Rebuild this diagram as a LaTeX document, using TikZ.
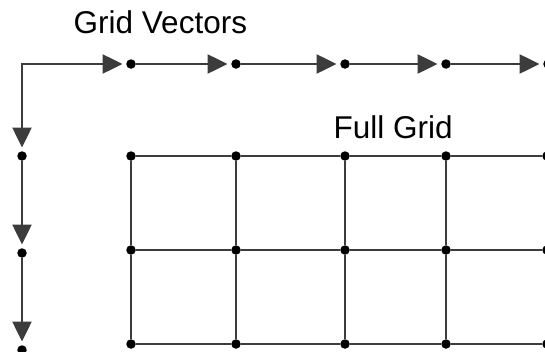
\documentclass[tikz,border=0pt]{standalone}
\usepackage{fontspec}
\setmainfont{Liberation Sans}
\usetikzlibrary{arrows.meta}
\definecolor{linegray}{HTML}{3C3C3C}
\begin{document}
\begin{tikzpicture}[x=1pt,y=-1pt,
  dot/.style={circle,fill=black,inner sep=0pt,minimum size=9.5pt},
  vec/.style={draw=linegray,line width=2.3pt,-{Triangle[length=20pt,width=19pt]},shorten >=3.5pt},
  corner/.style={draw=linegray,line width=2.3pt,{Triangle[length=20pt,width=19pt]}-{Triangle[length=20pt,width=19pt]},shorten >=3.5pt,shorten <=3.5pt},
  gridline/.style={draw=linegray,line width=2.3pt},
  lbl/.style={font=\fontsize{31.5}{36}\selectfont,anchor=base west,inner sep=0pt}]
\useasboundingbox (0,0) rectangle (545,351);
% labels
\node[lbl] (tv) at (73.5,33) {Grid Vectors};
\node[lbl] (tf) at (333.5,138) {Full Grid};
% grid vectors
\coordinate (c) at (22,64);
\node[dot] (h1) at (131,64) {};
\node[dot] (h2) at (236,64) {};
\node[dot] (h3) at (345,64) {};
\node[dot] (h4) at (446,64) {};
\node[dot] (h5) at (548,64) {};
\node[dot] (v1) at (22,156) {};
\node[dot] (v2) at (22,253) {};
\node[dot] (v3) at (22,350) {};
\draw[corner] (v1) -- (c) -- (h1);
\draw[vec] (h1) -- (h2);
\draw[vec] (h2) -- (h3);
\draw[vec] (h3) -- (h4);
\draw[vec] (h4) -- (h5);
\draw[vec] (v1) -- (v2);
\draw[vec] (v2) -- (v3);
% full grid
\foreach \i/\x in {1/131,2/236,3/345,4/446,5/547}
  \foreach \j/\y in {1/156,2/250,3/344}
    \node[dot] (g\i\j) at (\x,\y) {};
\foreach \i in {1,...,5}{
  \draw[gridline] (g\i1) -- (g\i2);
  \draw[gridline] (g\i2) -- (g\i3);
}
\foreach \j in {1,2,3}{
  \draw[gridline] (g1\j) -- (g2\j);
  \draw[gridline] (g2\j) -- (g3\j);
  \draw[gridline] (g3\j) -- (g4\j);
  \draw[gridline] (g4\j) -- (g5\j);
}
\end{tikzpicture}
\end{document}
